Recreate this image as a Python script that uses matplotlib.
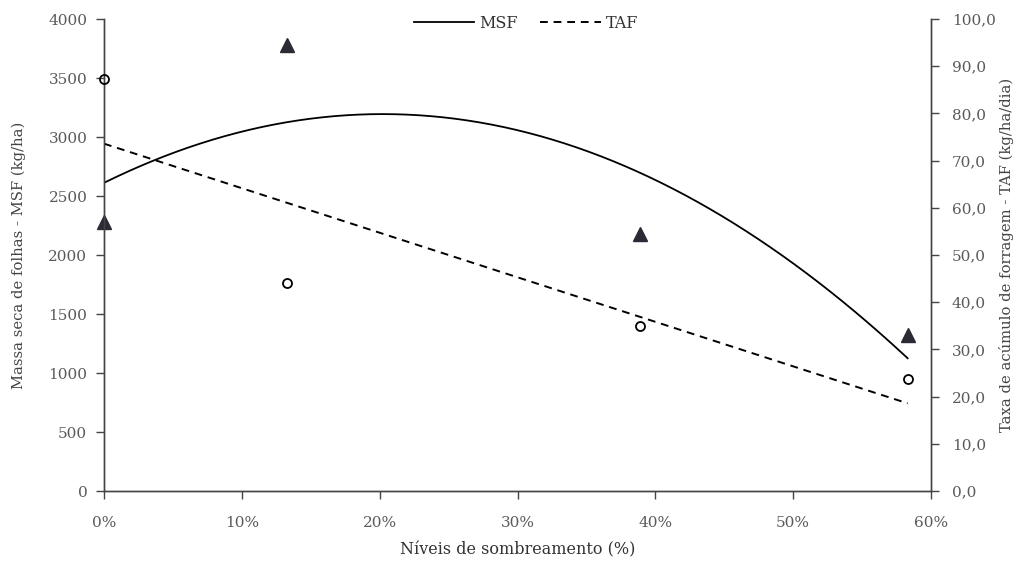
import numpy as np
import matplotlib
matplotlib.use("Agg")
import matplotlib.pyplot as plt
from matplotlib.ticker import FuncFormatter
from matplotlib.lines import Line2D

# níveis de sombreamento (%)
sombra = [0.0, 13.3, 38.9, 58.3]
# MSF observada (kg/ha) - triângulos
msf = [2280, 3780, 2178, 1322]
# TAF observada (kg/ha/dia) - círculos
taf = [87.3, 44.1, 35.0, 23.7]

x_ticks = [0, 10, 20, 30, 40, 50, 60]
msf_ticks = [0, 500, 1000, 1500, 2000, 2500, 3000, 3500, 4000]
taf_ticks = [0, 10, 20, 30, 40, 50, 60, 70, 80, 90, 100]

plt.rcParams['font.family'] = ['DejaVu Serif']
cinza = '#5a5a5a'

fig = plt.figure(figsize=(10.32, 5.62), dpi=100)
ax = fig.add_axes([0.1008, 0.1263, 0.8014, 0.8398])
ax2 = ax.twinx()

# linhas de tendência (quadrática para MSF, linear para TAF)
xs = np.linspace(sombra[0], sombra[-1], 200)
c_msf = np.polyfit(sombra, msf, 2)
c_taf = np.polyfit(sombra, taf, 1)
ax.plot(xs, np.polyval(c_msf, xs), color='black', lw=1.3)
ax2.plot(xs, np.polyval(c_taf, xs), color='black', lw=1.4, ls=(0, (4, 3)))

ax.plot(sombra, msf, ls='none', marker='^', ms=10, color='#2b2b35', clip_on=False, zorder=5)
ax2.plot(sombra, taf, ls='none', marker='o', ms=6.5, mfc='none', mec='black', mew=1.3,
         clip_on=False, zorder=5)

ax.set_xlim(0, 60)
ax.set_ylim(0, 4000)
ax2.set_ylim(0, 100)
ax.set_xticks(x_ticks)
ax.set_yticks(msf_ticks)
ax2.set_yticks(taf_ticks)
ax.xaxis.set_major_formatter(FuncFormatter(lambda v, p: f"{v:.0f}%"))
ax2.yaxis.set_major_formatter(FuncFormatter(lambda v, p: f"{v:.1f}".replace('.', ',')))

for a in (ax, ax2):
    a.spines['top'].set_visible(False)
    for s in a.spines.values():
        s.set_color('#444444')
        s.set_linewidth(1.0)
    a.tick_params(colors='#444444', labelcolor=cinza, labelsize=11, length=6, width=1)
ax.tick_params(axis='x', pad=12)
ax.tick_params(axis='y', pad=6)
ax2.tick_params(axis='y', pad=9)

ax.set_xlabel("Níveis de sombreamento (%)", fontsize=11.5, color='#333333', labelpad=8)
ax.set_ylabel("Massa seca de folhas - MSF (kg/ha)", fontsize=10.6, color='#444444', labelpad=16)
ax2.set_ylabel("Taxa de acúmulo de forragem - TAF (kg/ha/dia)", fontsize=10.6, color='#444444',
               labelpad=2)

handles = [Line2D([], [], color='black', lw=1.3),
           Line2D([], [], color='black', lw=1.4, ls=(0, (4, 3)))]
ax.legend(handles, ["MSF", "TAF"], loc='upper center', bbox_to_anchor=(0.51, 1.04), ncol=2,
          frameon=False, fontsize=11.5, handlelength=3.8, columnspacing=1.4, handletextpad=0.3,
          labelcolor='#333333')

fig.savefig("out.png", dpi=100)
